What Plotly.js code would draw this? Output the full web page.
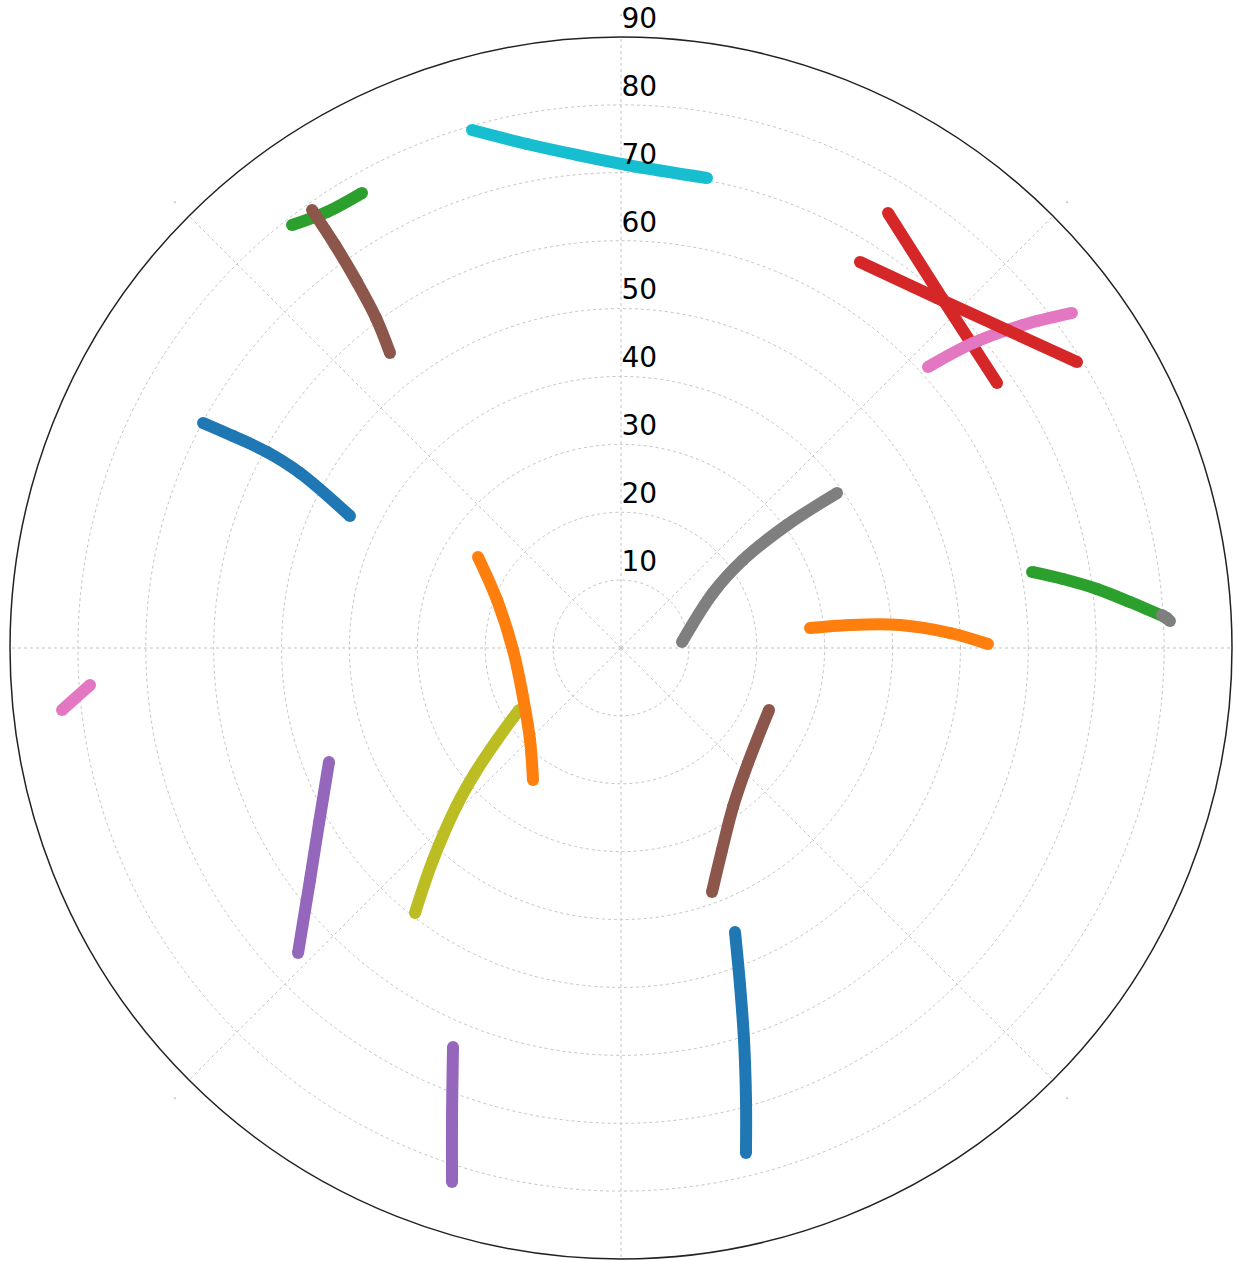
<!DOCTYPE html>
<html>
<head>
<meta charset="utf-8">
<script src="https://cdn.plot.ly/plotly-3.0.1.min.js"></script>
<style>html,body{margin:0;padding:0;background:#fff;}#chart{width:1233px;height:1261px;}</style>
</head>
<body>
<div id="chart"></div>
<script>
// Satellite sky tracks: azimuth (deg, clockwise from north) and radial value (0 centre .. 90 edge)
const radialTicks = [10, 20, 30, 40, 50, 60, 70, 80, 90];
const radialTickLabels = ["10", "20", "30", "40", "50", "60", "70", "80", "90"];
const angularTicks = [0, 45, 90, 135, 180, 225, 270, 315];
const angularTickLabels = ["-", "-", "", "-", "", "-", "", "-"];

const colors = ["#1f77b4", "#ff7f0e", "#2ca02c", "#d62728", "#9467bd", "#8c564b", "#e377c2", "#7f7f7f", "#bcbd22", "#17becf"];

const t00_az = [298.30, 298.65, 298.97, 298.60, 295.97];
const t00_r  = [69.92, 65.12, 59.60, 53.85, 44.40];

const t01_az = [83.96, 84.26, 85.29, 87.39, 89.38];
const t01_r  = [28.00, 33.90, 41.23, 48.51, 54.06];

const t02_az = [322.12, 326.00, 330.35];
const t02_r  = [78.93, 77.46, 77.12];

const t03_az = [31.54, 42.52, 54.83];
const t03_r  = [75.18, 69.95, 67.76];

const t04_az = [248.68, 239.91, 233.28, 226.64];
const t04_r  = [46.17, 51.41, 57.15, 65.43];

const t05_az = [324.80, 324.64, 324.19, 323.41, 321.94];
const t05_r  = [78.95, 72.79, 66.47, 60.54, 55.19];

const t06_az = [47.53, 49.10, 51.22, 53.39];
const t06_r  = [61.30, 68.61, 75.96, 82.75];

const t07_az = [84.38, 59.13, 54.19, 53.46, 54.34];
const t07_r  = [9.03, 15.79, 22.16, 30.43, 39.16];

const t08_az = [217.86, 221.56, 226.06, 229.43, 233.43, 238.70];
const t08_r  = [49.44, 41.74, 33.75, 28.31, 22.74, 17.58];

const t09_az = [343.95, 349.44, 354.90, 0.71, 10.37];
const t09_r  = [79.39, 75.52, 72.91, 71.15, 70.38];

const t10_az = [158.13, 160.55, 162.58, 164.54, 166.10];
const t10_r  = [45.07, 52.64, 60.52, 69.08, 76.63];

const t11_az = [302.47, 291.16, 268.94, 243.43, 224.69, 213.69];
const t11_r  = [24.97, 19.59, 15.91, 16.14, 19.06, 23.37];

const t12_az = [79.52, 81.13, 82.93, 84.84, 86.85];
const t12_r  = [61.57, 65.90, 70.65, 75.28, 80.55];

const t13_az = [31.76, 42.08, 50.52, 57.90];
const t13_r  = [66.87, 69.46, 73.67, 79.29];

const t14_az = [202.83, 199.89, 197.56];
const t14_r  = [63.77, 73.15, 82.50];

const t15_az = [112.73, 132.16, 144.84, 153.43, 159.55];
const t15_r  = [23.64, 25.24, 28.65, 33.27, 38.36];

const t16_az = [263.67, 266.01];
const t16_r  = [82.84, 78.40];

const t17_az = [86.51, 87.18];
const t17_r  = [79.84, 80.96];

const tracks = [
  [t00_az, t00_r], [t01_az, t01_r], [t02_az, t02_r], [t03_az, t03_r], [t04_az, t04_r],
  [t05_az, t05_r], [t06_az, t06_r], [t07_az, t07_r], [t08_az, t08_r], [t09_az, t09_r],
  [t10_az, t10_r], [t11_az, t11_r], [t12_az, t12_r], [t13_az, t13_r], [t14_az, t14_r],
  [t15_az, t15_r], [t16_az, t16_r], [t17_az, t17_r]
];

const data = tracks.map((t, i) => ({
  type: "scatterpolar",
  mode: "lines+markers",
  theta: t[0],
  r: t[1],
  name: "track " + (i + 1),
  line: {color: colors[i % 10], width: 12, shape: "spline", smoothing: 1},
  marker: {color: colors[i % 10], size: 12, symbol: "circle"},
  hoverinfo: "skip",
  showlegend: false
}));

const layout = {
  width: 1233,
  height: 1261,
  margin: {l: 10, r: 1, t: 37, b: 2, pad: 0},
  paper_bgcolor: "#ffffff",
  font: {family: "DejaVu Sans, sans-serif", color: "#000000"},
  showlegend: false,
  polar: {
    bgcolor: "#ffffff",
    domain: {x: [0, 1], y: [0, 1]},
    angularaxis: {
      rotation: 90,
      direction: "clockwise",
      tickmode: "array",
      tickvals: angularTicks,
      ticktext: angularTickLabels,
      tickfont: {size: 7, color: "#444444"},
      ticks: "outside",
      ticklen: 16,
      tickcolor: "rgba(0,0,0,0)",
      showgrid: true,
      gridcolor: "#c4c4c4",
      griddash: "dot",
      gridwidth: 1,
      showline: true,
      linecolor: "#222222",
      linewidth: 1.5
    },
    radialaxis: {
      range: [0, 90],
      angle: 90,
      side: "clockwise",
      tickmode: "array",
      tickvals: radialTicks,
      ticktext: radialTickLabels.map(s => s + "<br> "),
      tickangle: 90,
      tickfont: {size: 28, color: "#000000", family: "DejaVu Sans, sans-serif"},
      ticks: "",
      showline: false,
      showgrid: true,
      gridcolor: "#c4c4c4",
      griddash: "dot",
      gridwidth: 1
    }
  }
};

Plotly.newPlot("chart", data, layout, {displayModeBar: false, staticPlot: true});
</script>
</body>
</html>
